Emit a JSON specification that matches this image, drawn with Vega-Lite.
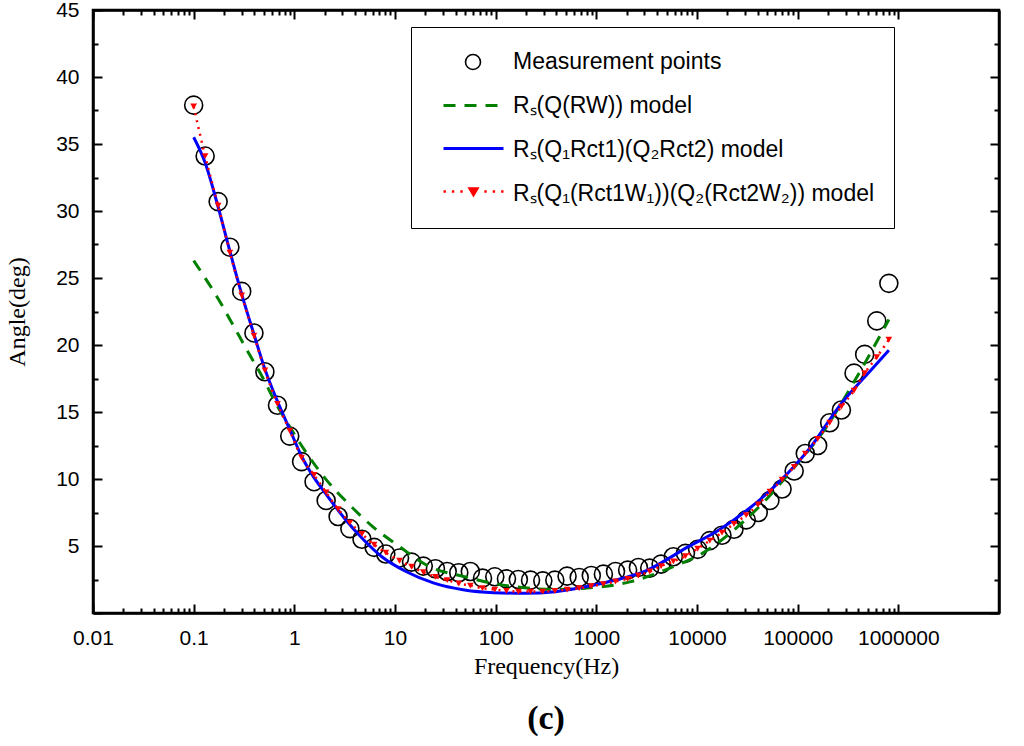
{
  "$schema": "https://vega.github.io/schema/vega-lite/v6.json",
  "width": 906,
  "height": 603,
  "autosize": "none",
  "padding": {"left": 93, "top": 10, "right": 25, "bottom": 133},
  "title": {"text": "(c)", "orient": "bottom", "anchor": "middle", "font": "Liberation Serif", "fontSize": 34, "fontWeight": "bold", "color": "black", "offset": 24},
  "config": {
    "view": {"stroke": "black", "strokeWidth": 2.5},
    "axis": {
      "grid": false, "domainColor": "black", "domainWidth": 2.5,
      "tickColor": "black", "tickWidth": 2,
      "labelFont": "Liberation Sans", "labelFontSize": 21, "labelColor": "black",
      "labelOverlap": false, "labelFlush": false, "labelBound": false,
      "titleFont": "Liberation Serif", "titleFontSize": 24, "titleFontWeight": "normal", "titleColor": "black"
    },
    "legend": {"title": null, "orient": "none", "labelFont": "Liberation Sans", "labelColor": "black", "labelLimit": 0}
  },
  "datasets": {
    "meas": [
      {"f": 0.1, "angle": 37.9}, {"f": 0.13, "angle": 34.1}, {"f": 0.175, "angle": 30.7},
      {"f": 0.229, "angle": 27.3}, {"f": 0.3, "angle": 24.0}, {"f": 0.397, "angle": 20.9},
      {"f": 0.51, "angle": 18.0}, {"f": 0.68, "angle": 15.5}, {"f": 0.9, "angle": 13.2},
      {"f": 1.18, "angle": 11.3}, {"f": 1.57, "angle": 9.8}, {"f": 2.07, "angle": 8.4},
      {"f": 2.72, "angle": 7.2}, {"f": 3.56, "angle": 6.3}, {"f": 4.7, "angle": 5.5},
      {"f": 6.2, "angle": 4.9}, {"f": 8.1, "angle": 4.4}, {"f": 11.1, "angle": 4.1},
      {"f": 14.6, "angle": 3.8}, {"f": 19.1, "angle": 3.5}, {"f": 25.2, "angle": 3.3},
      {"f": 33, "angle": 3.1}, {"f": 43, "angle": 3.0}, {"f": 56, "angle": 3.1},
      {"f": 74, "angle": 2.6}, {"f": 98, "angle": 2.7}, {"f": 128, "angle": 2.55},
      {"f": 168, "angle": 2.5}, {"f": 222, "angle": 2.45}, {"f": 294, "angle": 2.4},
      {"f": 387, "angle": 2.45}, {"f": 512, "angle": 2.75}, {"f": 676, "angle": 2.65},
      {"f": 891, "angle": 2.8}, {"f": 1175, "angle": 2.9}, {"f": 1550, "angle": 3.1},
      {"f": 2046, "angle": 3.2}, {"f": 2618, "angle": 3.4}, {"f": 3390, "angle": 3.35},
      {"f": 4400, "angle": 3.65}, {"f": 5820, "angle": 4.2}, {"f": 7680, "angle": 4.45},
      {"f": 10140, "angle": 4.75}, {"f": 13400, "angle": 5.4}, {"f": 17700, "angle": 5.8},
      {"f": 23300, "angle": 6.25}, {"f": 30800, "angle": 6.95}, {"f": 40600, "angle": 7.5},
      {"f": 53000, "angle": 8.4}, {"f": 70000, "angle": 9.25}, {"f": 92300, "angle": 10.6},
      {"f": 119000, "angle": 11.9}, {"f": 158000, "angle": 12.5}, {"f": 208000, "angle": 14.2},
      {"f": 272000, "angle": 15.15}, {"f": 363000, "angle": 17.9}, {"f": 463000, "angle": 19.3},
      {"f": 611000, "angle": 21.8}, {"f": 805000, "angle": 24.6}
    ],
    "rqrw": [
      {"f": 0.1, "angle": 26.3}, {"f": 0.18, "angle": 23.3},
      {"f": 0.25, "angle": 21.4}, {"f": 0.34, "angle": 19.6}, {"f": 0.49, "angle": 17.5},
      {"f": 0.65, "angle": 15.7}, {"f": 0.9, "angle": 13.9}, {"f": 1.36, "angle": 11.8},
      {"f": 2.1, "angle": 9.9}, {"f": 3.4, "angle": 8.2}, {"f": 6.0, "angle": 6.45},
      {"f": 11.1, "angle": 4.95}, {"f": 22, "angle": 3.46}, {"f": 49, "angle": 2.71},
      {"f": 96, "angle": 2.2}, {"f": 193, "angle": 1.89}, {"f": 390, "angle": 1.75},
      {"f": 777, "angle": 1.85}, {"f": 1560, "angle": 2.1}, {"f": 2200, "angle": 2.34},
      {"f": 3600, "angle": 2.84}, {"f": 5820, "angle": 3.46}, {"f": 11300, "angle": 4.45},
      {"f": 23300, "angle": 6.2}, {"f": 46300, "angle": 8.3}, {"f": 93000, "angle": 10.9},
      {"f": 186000, "angle": 13.7}, {"f": 373000, "angle": 17.4}, {"f": 805000, "angle": 21.9}
    ],
    "qrqr": [
      {"f": 0.1, "angle": 35.5}, {"f": 0.13, "angle": 33.6}, {"f": 0.175, "angle": 30.3},
      {"f": 0.229, "angle": 27.0}, {"f": 0.3, "angle": 23.8}, {"f": 0.397, "angle": 20.8},
      {"f": 0.51, "angle": 18.2}, {"f": 0.68, "angle": 15.8}, {"f": 0.9, "angle": 13.7},
      {"f": 1.18, "angle": 11.7}, {"f": 1.57, "angle": 10.1}, {"f": 2.1, "angle": 8.8},
      {"f": 3.2, "angle": 7.0}, {"f": 4.9, "angle": 5.45}, {"f": 7.4, "angle": 4.2},
      {"f": 13, "angle": 3.08}, {"f": 24, "angle": 2.25}, {"f": 49, "angle": 1.72},
      {"f": 96, "angle": 1.52}, {"f": 193, "angle": 1.47}, {"f": 390, "angle": 1.59},
      {"f": 777, "angle": 1.96}, {"f": 1560, "angle": 2.46}, {"f": 3100, "angle": 3.15},
      {"f": 8220, "angle": 4.95}, {"f": 16500, "angle": 6.2}, {"f": 33000, "angle": 7.8},
      {"f": 66000, "angle": 9.8}, {"f": 132000, "angle": 12.3}, {"f": 263000, "angle": 15.5},
      {"f": 531000, "angle": 18.1}, {"f": 805000, "angle": 19.6}
    ],
    "qrwqrw": [
      {"f": 0.1, "angle": 37.8}, {"f": 0.13, "angle": 34.1}, {"f": 0.175, "angle": 30.4},
      {"f": 0.229, "angle": 26.9}, {"f": 0.3, "angle": 23.7}, {"f": 0.397, "angle": 20.7},
      {"f": 0.51, "angle": 18.1}, {"f": 0.68, "angle": 15.6}, {"f": 0.9, "angle": 13.6},
      {"f": 1.18, "angle": 11.6}, {"f": 1.57, "angle": 10.3}, {"f": 2.07, "angle": 9.0},
      {"f": 2.72, "angle": 7.75}, {"f": 3.56, "angle": 6.75}, {"f": 4.7, "angle": 5.9},
      {"f": 6.2, "angle": 5.1}, {"f": 8.1, "angle": 4.5}, {"f": 11.1, "angle": 3.9},
      {"f": 14.6, "angle": 3.45}, {"f": 19.1, "angle": 3.05}, {"f": 25.2, "angle": 2.7},
      {"f": 33, "angle": 2.45}, {"f": 43, "angle": 2.2}, {"f": 56, "angle": 2.05},
      {"f": 74, "angle": 1.85}, {"f": 98, "angle": 1.75}, {"f": 128, "angle": 1.65},
      {"f": 168, "angle": 1.6}, {"f": 222, "angle": 1.6}, {"f": 294, "angle": 1.6},
      {"f": 387, "angle": 1.65}, {"f": 512, "angle": 1.75}, {"f": 676, "angle": 1.85},
      {"f": 891, "angle": 2.0}, {"f": 1175, "angle": 2.15}, {"f": 1550, "angle": 2.35},
      {"f": 2046, "angle": 2.55}, {"f": 2618, "angle": 2.8}, {"f": 3390, "angle": 3.1},
      {"f": 4400, "angle": 3.5}, {"f": 5820, "angle": 3.85}, {"f": 7680, "angle": 4.25},
      {"f": 10140, "angle": 4.8}, {"f": 13400, "angle": 5.4}, {"f": 17700, "angle": 6.0},
      {"f": 23300, "angle": 6.65}, {"f": 30800, "angle": 7.3}, {"f": 40600, "angle": 8.1},
      {"f": 53000, "angle": 9.05}, {"f": 70000, "angle": 9.95}, {"f": 92300, "angle": 10.9},
      {"f": 119000, "angle": 11.9}, {"f": 158000, "angle": 13.0}, {"f": 208000, "angle": 14.2},
      {"f": 272000, "angle": 15.4}, {"f": 363000, "angle": 16.6}, {"f": 463000, "angle": 17.9},
      {"f": 611000, "angle": 19.1}, {"f": 805000, "angle": 20.4}
    ]
  },
  "resolve": {"axis": {"x": "independent", "y": "independent"}},
  "layer": [
    {
      "data": {"name": "meas"},
      "mark": {"type": "point", "filled": false, "size": 324, "strokeWidth": 1.6, "opacity": 1},
      "encoding": {
        "x": {
          "field": "f", "type": "quantitative",
          "scale": {"type": "log", "domain": [0.01, 1584893]},
          "axis": {
            "orient": "bottom", "title": "Frequency(Hz)", "titlePadding": 2,
            "values": [0.01,0.02,0.03,0.04,0.05,0.06,0.07,0.08,0.09,0.1,0.2,0.3,0.4,0.5,0.6,0.7,0.8,0.9,1,2,3,4,5,6,7,8,9,10,20,30,40,50,60,70,80,90,100,200,300,400,500,600,700,800,900,1000,2000,3000,4000,5000,6000,7000,8000,9000,10000,20000,30000,40000,50000,60000,70000,80000,90000,100000,200000,300000,400000,500000,600000,700000,800000,900000,1000000],
            "labelExpr": "indexof([0.01,0.1,1,10,100,1000,10000,100000,1000000], datum.value) >= 0 ? format(datum.value, '~f') : ''",
            "tickSize": {"condition": {"test": "indexof([0.01,0.1,1,10,100,1000,10000,100000,1000000], datum.value) >= 0", "value": -9}, "value": -5},
            "labelPadding": 23
          }
        },
        "y": {
          "field": "angle", "type": "quantitative",
          "scale": {"domain": [0, 45]},
          "axis": {
            "orient": "left", "title": "Angle(deg)", "titlePadding": 26,
            "values": [0,2.5,5,7.5,10,12.5,15,17.5,20,22.5,25,27.5,30,32.5,35,37.5,40,42.5,45],
            "labelExpr": "datum.value % 5 == 0 && datum.value > 0 ? datum.label : ''",
            "tickSize": {"condition": {"test": "datum.value % 5 == 0", "value": -9}, "value": -5},
            "labelPadding": 23
          }
        },
        "color": {
          "datum": "Measurement points", "type": "nominal",
          "scale": {
            "domain": ["Measurement points", "Rₛ(Q(RW)) model", "Rₛ(Q₁Rct1)(Q₂Rct2) model", "Rₛ(Q₁(Rct1W₁))(Q₂(Rct2W₂)) model"],
            "range": ["black", "#008000", "#0000ff", "#ff0000"]
          },
          "legend": {
            "legendX": 318, "legendY": 17, "zindex": 0,
            "strokeColor": "black", "padding": 19,
            "labelFontSize": 23, "labelOffset": 51,
            "symbolType": "circle", "symbolSize": 900, "symbolOpacity": 0, "rowPadding": 13
          }
        },
        "shape": {
          "datum": "Measurement points", "type": "nominal",
          "scale": {"range": ["circle"]},
          "legend": {
            "legendX": 371.5, "legendY": 43.5, "zindex": 1, "padding": 0,
            "labelExpr": "''", "symbolSize": 225, "symbolStrokeWidth": 1.6,
            "symbolStrokeColor": "black", "symbolFillColor": "transparent"
          }
        }
      }
    },
    {
      "data": {"name": "rqrw"},
      "mark": {"type": "line", "interpolate": "monotone", "strokeWidth": 3, "color": "#008000"},
      "encoding": {
        "x": {
          "field": "f", "type": "quantitative",
          "axis": {
            "orient": "top", "labels": false, "title": null,
            "values": [0.01,0.02,0.03,0.04,0.05,0.06,0.07,0.08,0.09,0.1,0.2,0.3,0.4,0.5,0.6,0.7,0.8,0.9,1,2,3,4,5,6,7,8,9,10,20,30,40,50,60,70,80,90,100,200,300,400,500,600,700,800,900,1000,2000,3000,4000,5000,6000,7000,8000,9000,10000,20000,30000,40000,50000,60000,70000,80000,90000,100000,200000,300000,400000,500000,600000,700000,800000,900000,1000000],
            "tickSize": {"condition": {"test": "indexof([0.01,0.1,1,10,100,1000,10000,100000,1000000], datum.value) >= 0", "value": -9}, "value": -5}
          }
        },
        "y": {
          "field": "angle", "type": "quantitative",
          "axis": {
            "orient": "right", "labels": false, "title": null,
            "values": [0,2.5,5,7.5,10,12.5,15,17.5,20,22.5,25,27.5,30,32.5,35,37.5,40,42.5,45],
            "tickSize": {"condition": {"test": "datum.value % 5 == 0", "value": -9}, "value": -5}
          }
        },
        "strokeDash": {
          "datum": "Rₛ(Q(RW)) model", "type": "nominal",
          "scale": {"range": [[12, 9]]},
          "legend": {
            "legendX": 349, "legendY": 64, "zindex": 1, "padding": 0,
            "labelExpr": "''", "symbolType": "stroke", "symbolSize": 3600,
            "symbolStrokeWidth": 3, "symbolStrokeColor": "#008000"
          }
        }
      }
    },
    {
      "data": {"name": "qrqr"},
      "mark": {"type": "line", "interpolate": "monotone", "strokeWidth": 3},
      "encoding": {
        "x": {"field": "f", "type": "quantitative", "axis": null},
        "y": {"field": "angle", "type": "quantitative", "axis": null},
        "stroke": {
          "datum": "Rₛ(Q₁Rct1)(Q₂Rct2) model", "type": "nominal",
          "scale": {"range": ["#0000ff"]},
          "legend": {
            "legendX": 349, "legendY": 107, "zindex": 1, "padding": 0,
            "labelExpr": "''", "symbolType": "stroke", "symbolSize": 3600,
            "symbolStrokeWidth": 3
          }
        }
      }
    },
    {
      "data": {"name": "qrwqrw"},
      "mark": {"type": "line", "interpolate": "monotone", "strokeWidth": 2.5, "strokeDash": [2, 5], "color": "#ff0000"},
      "encoding": {
        "x": {"field": "f", "type": "quantitative", "axis": null},
        "y": {"field": "angle", "type": "quantitative", "axis": null}
      }
    },
    {
      "data": {"name": "qrwqrw"},
      "mark": {"type": "point", "shape": "triangle-down", "filled": true, "size": 45, "opacity": 1},
      "encoding": {
        "x": {"field": "f", "type": "quantitative", "axis": null},
        "y": {"field": "angle", "type": "quantitative", "axis": null},
        "fill": {
          "datum": "Rₛ(Q₁(Rct1W₁))(Q₂(Rct2W₂)) model", "type": "nominal",
          "scale": {"range": ["#ff0000"]},
          "legend": {
            "legendX": 349, "legendY": 150, "zindex": 1, "padding": 0,
            "labelExpr": "''", "symbolSize": 3600,
            "symbolType": "M-1,0H-0.92M-0.72,0H-0.64M-0.44,0H-0.36M0.36,0H0.44M0.64,0H0.72M0.92,0H1M-0.13,-0.1L0.13,-0.1L0,0.12Z",
            "symbolStrokeWidth": 2.5, "symbolStrokeColor": "#ff0000"
          }
        }
      }
    }
  ]
}
